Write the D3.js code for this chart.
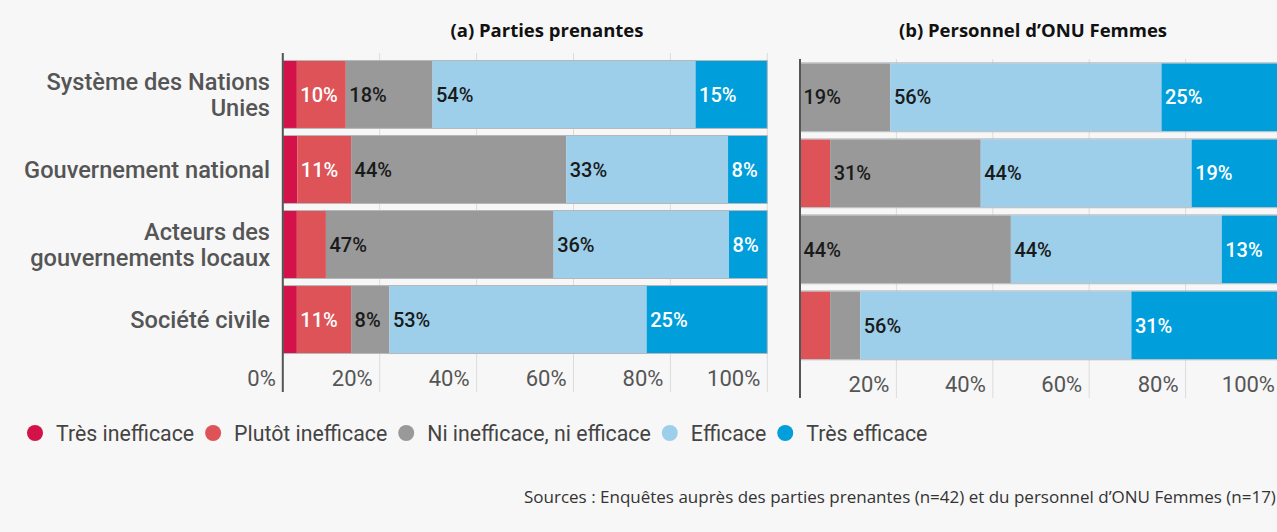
<!DOCTYPE html>
<html>
<head>
<meta charset="utf-8">
<script src="https://cdn.jsdelivr.net/npm/d3@7"></script>
<style>
  body { margin: 0; background: #f7f7f7; }
  svg { display: block; }
</style>
</head>
<body>
<div id="my_dataviz"></div>
<script>
// data
var categories = [["Système des Nations", "Unies"], ["Gouvernement national"], ["Acteurs des", "gouvernements locaux"], ["Société civile"]];
var levels = ["Très inefficace", "Plutôt inefficace", "Ni inefficace, ni efficace", "Efficace", "Très efficace"];
var colors = ["#d4124a", "#dd5357", "#999999", "#9dcfeb", "#009edb"];
var labelColors = ["#ffffff", "#ffffff", "#1a1a1a", "#1a1a1a", "#ffffff"];
var stakeholders = [
  [2.9, 10.1, 17.9, 54.3, 14.8],
  [3.0, 11.1, 44.4, 33.4, 8.1],
  [2.9, 6.0, 47.0, 36.2, 7.9],
  [2.9, 11.2, 7.9, 53.1, 24.9]
];
var staff = [
  [0, 0, 18.75, 56.25, 25],
  [0, 6.25, 31.25, 43.75, 18.75],
  [0, 0, 43.75, 43.75, 12.5],
  [0, 6.25, 6.25, 56.25, 31.25]
];
var ticks = [0, 20, 40, 60, 80, 100];
var titles = ["(a) Parties prenantes", "(b) Personnel d\u2019ONU Femmes"];
var source = "Sources : Enquêtes auprès des parties prenantes (n=42) et du personnel d\u2019ONU Femmes (n=17)";

var width = 1277, height = 532;

var svg = d3.select("#my_dataviz").append("svg")
    .attr("width", width)
    .attr("height", height)
    .style("background", "#f7f7f7");

// panel settings
var panels = [
  {data: stakeholders, x0: 282.8, x1: 767.3, yr: [57, 357], gTop: 53, gBot: 392, tickY: 386, title: titles[0], titleX: 547, showZero: true},
  {data: staff, x0: 800, x1: 1282, yr: [59.3, 363.3], gTop: 59, gBot: 398, tickY: 392, title: titles[1], titleX: 1033, showZero: false}
];

panels.forEach(function(p, pi) {
  var x = d3.scaleLinear().domain([0, 100]).range([p.x0, p.x1]);
  var y = d3.scaleBand().domain(d3.range(categories.length)).range(p.yr)
      .paddingInner(0.107).paddingOuter(0.053);

  var g = svg.append("g");

  // gridlines
  g.selectAll(".grid")
    .data(ticks.slice(1))
    .enter().append("line")
      .attr("x1", function(d) { return x(d); })
      .attr("x2", function(d) { return x(d); })
      .attr("y1", p.gTop)
      .attr("y2", p.gBot)
      .style("stroke", "#dcdcdc")
      .style("stroke-width", 1);

  // tick labels
  g.selectAll(".tick")
    .data(p.showZero ? ticks : ticks.slice(1))
    .enter().append("text")
      .attr("x", function(d) { return x(d) - 7; })
      .attr("y", p.tickY)
      .attr("text-anchor", "end")
      .style("font-family", "Roboto")
      .style("font-size", "22px")
      .style("fill", "#555")
      .text(function(d) { return d + "%"; });

  // stacked rows
  p.data.forEach(function(row, ri) {
    var cum = 0;
    var segs = row.map(function(v, k) {
      var s = {k: k, v: v, start: cum};
      cum += v;
      return s;
    });
    var rg = g.append("g");
    rg.selectAll("rect")
      .data(segs)
      .enter().append("rect")
        .attr("x", function(d) { return x(d.start); })
        .attr("y", y(ri))
        .attr("width", function(d) { return x(d.start + d.v) - x(d.start); })
        .attr("height", y.bandwidth())
        .style("fill", function(d) { return colors[d.k]; });
    // thin outline on top / bottom
    rg.append("rect")
      .attr("x", x(0))
      .attr("y", y(ri) - 0.5)
      .attr("width", x(100) - x(0))
      .attr("height", y.bandwidth() + 1)
      .style("fill", "none")
      .style("stroke", "#b4b8bb")
      .style("stroke-width", 1);
    rg.selectAll("text")
      .data(segs.filter(function(d) { return d.v >= 7.5; }))
      .enter().append("text")
        .attr("x", function(d) { return x(d.start) + 3.5; })
        .attr("y", y(ri) + y.bandwidth() / 2)
        .attr("dy", "0.36em")
        .style("font-family", "Roboto")
        .style("font-weight", 500)
        .style("font-size", "20px")
        .style("fill", function(d) { return labelColors[d.k]; })
        .text(function(d) { return Math.round(d.v) + "%"; });
  });

  // left axis line
  g.append("line")
    .attr("x1", p.x0).attr("x2", p.x0)
    .attr("y1", p.gTop).attr("y2", p.gBot)
    .style("stroke", "#555")
    .style("stroke-width", 2);

  // panel title
  svg.append("text")
    .attr("x", p.titleX)
    .attr("y", 37)
    .attr("text-anchor", "middle")
    .style("font-family", "Open Sans")
    .style("font-weight", 700)
    .style("font-size", "18.5px")
    .style("fill", "#111")
    .text(p.title);

  // category labels (left panel only)
  if (pi === 0) {
    categories.forEach(function(lines, ri) {
      var cy = y(ri) + y.bandwidth() / 2;
      var t = svg.append("text")
        .attr("text-anchor", "end")
        .style("font-family", "Roboto")
        .style("font-weight", 500)
        .style("font-size", "23.6px")
        .style("fill", "#555");
      lines.forEach(function(line, li) {
        t.append("tspan")
          .attr("x", 270)
          .attr("y", cy + (li - (lines.length - 1) / 2) * 26.5)
          .attr("dy", "0.36em")
          .text(line);
      });
    });
  }
});

// legend
var lx = 35;
levels.forEach(function(name, i) {
  svg.append("circle")
    .attr("cx", lx)
    .attr("cy", 433)
    .attr("r", 8)
    .style("fill", colors[i]);
  var t = svg.append("text")
    .attr("x", lx + 21)
    .attr("y", 433)
    .attr("dy", "0.36em")
    .style("font-family", "Roboto")
    .style("font-size", "21.3px")
    .style("fill", "#444")
    .text(name);
  lx = lx + 21 + t.node().getComputedTextLength() + 19;
});

// source
svg.append("text")
  .attr("x", 524)
  .attr("y", 503)
  .style("font-family", "Open Sans")
  .style("font-size", "17px")
  .style("fill", "#333")
  .text(source);
</script>
</body>
</html>
